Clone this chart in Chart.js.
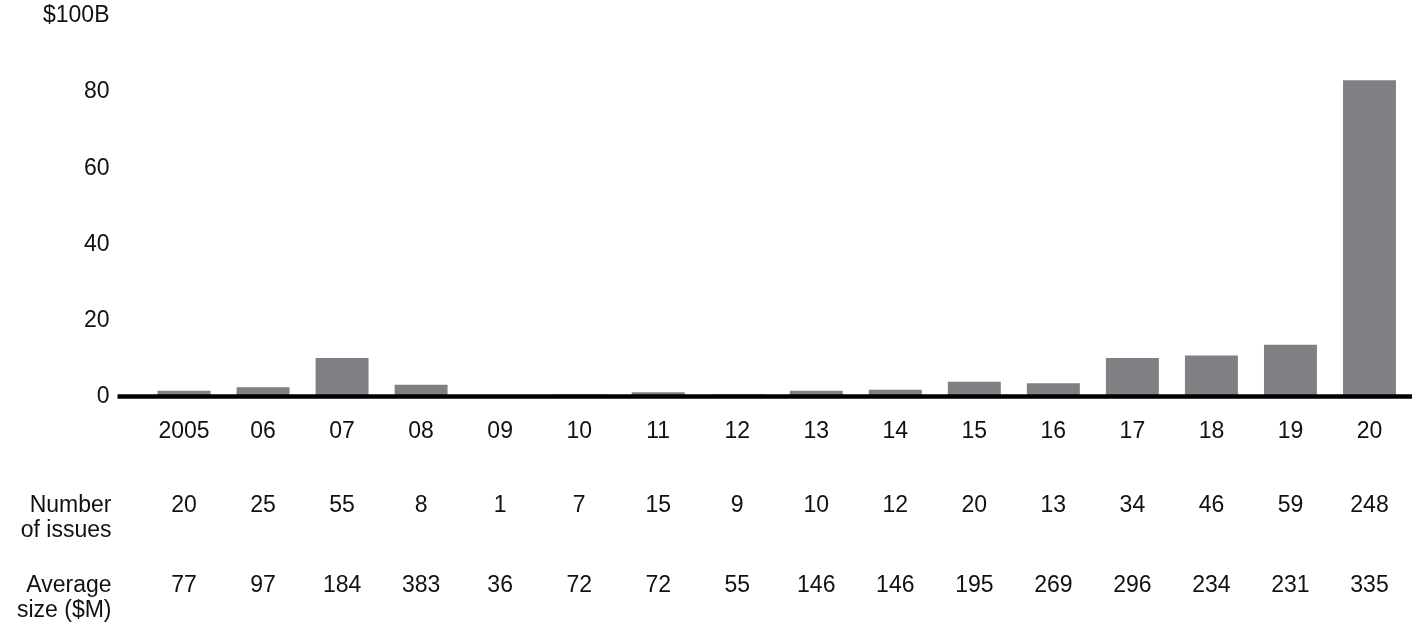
<!DOCTYPE html>
<html>
<head>
<meta charset="utf-8">
<script src="https://cdn.jsdelivr.net/npm/chart.js@4/dist/chart.umd.min.js"></script>
<style>
  html, body { margin: 0; padding: 0; background: #ffffff; }
  #wrap { width: 1412px; height: 627px; position: relative; }
</style>
</head>
<body>
<div id="wrap"><canvas id="c" width="1412" height="627"></canvas></div>
<script>
const years = ['2005','06','07','08','09','10','11','12','13','14','15','16','17','18','19','20'];
const volumeB = [1.5, 2.4, 10.1, 3.1, 0.1, 0.5, 1.1, 0.5, 1.5, 1.8, 3.9, 3.5, 10.1, 10.8, 13.6, 83.1];
const numberOfIssues = ['20','25','55','8','1','7','15','9','10','12','20','13','34','46','59','248'];
const averageSizeM = ['77','97','184','383','36','72','72','55','146','146','195','269','296','234','231','335'];
const yTicks = [0, 20, 40, 60, 80, 100];
const yTopLabel = '$100B';
const rowLabels = [['Number', 'of issues'], ['Average', 'size ($M)']];

const FONT = 'Liberation Sans, Arial, Helvetica, sans-serif';
const FS = 23;
const TEXT = '#111111';

const tablePlugin = {
  id: 'tablePlugin',
  afterDraw(chart) {
    const ctx = chart.ctx;
    const xs = chart.scales.x;
    const ys = chart.scales.y;
    const y0 = ys.getPixelForValue(0);
    // baseline
    ctx.save();
    ctx.strokeStyle = '#000000';
    ctx.lineWidth = 4.5;
    ctx.beginPath();
    ctx.moveTo(chart.chartArea.left - 27, y0);
    ctx.lineTo(chart.width, y0);
    ctx.stroke();
    // table
    ctx.font = FS + 'px ' + FONT;
    ctx.fillStyle = TEXT;
    ctx.textBaseline = 'middle';
    const rows = [numberOfIssues, averageSizeM];
    const rowY = [y0 + 109, y0 + 189];
    const labelRight = chart.chartArea.left - 33;
    rows.forEach((vals, r) => {
      ctx.textAlign = 'right';
      rowLabels[r].forEach((line, li) => {
        ctx.fillText(line, labelRight, rowY[r] + li * 25);
      });
      ctx.textAlign = 'center';
      vals.forEach((v, i) => {
        ctx.fillText(v, xs.getPixelForValue(i), rowY[r]);
      });
    });
    ctx.restore();
  }
};

new Chart(document.getElementById('c'), {
  type: 'bar',
  data: {
    labels: years,
    datasets: [{
      data: volumeB,
      backgroundColor: '#808084',
      borderWidth: 0,
      barPercentage: 0.67,
      categoryPercentage: 1.0
    }]
  },
  options: {
    responsive: false,
    animation: false,
    devicePixelRatio: 1,
    layout: { padding: { top: 0, right: 3, left: 0, bottom: 0 } },
    plugins: { legend: { display: false }, tooltip: { enabled: false } },
    scales: {
      x: {
        offset: true,
        grid: { display: false, drawTicks: false },
        border: { display: false },
        ticks: { color: TEXT, font: { family: FONT, size: FS }, padding: 21, maxRotation: 0, autoSkip: false },
        afterFit(s) { s.height = 230.5; }
      },
      y: {
        min: 0, max: 100,
        grid: { display: false, drawTicks: false },
        border: { display: false },
        afterBuildTicks(s) { s.ticks = yTicks.map(v => ({ value: v })); },
        ticks: {
          color: TEXT, font: { family: FONT, size: FS }, padding: 35,
          callback: v => (v === 100 ? yTopLabel : String(v))
        },
        afterFit(s) { s.width = 144.5; s.paddingTop = 16; s.paddingBottom = 0; }
      }
    }
  },
  plugins: [tablePlugin]
});
</script>
</body>
</html>
